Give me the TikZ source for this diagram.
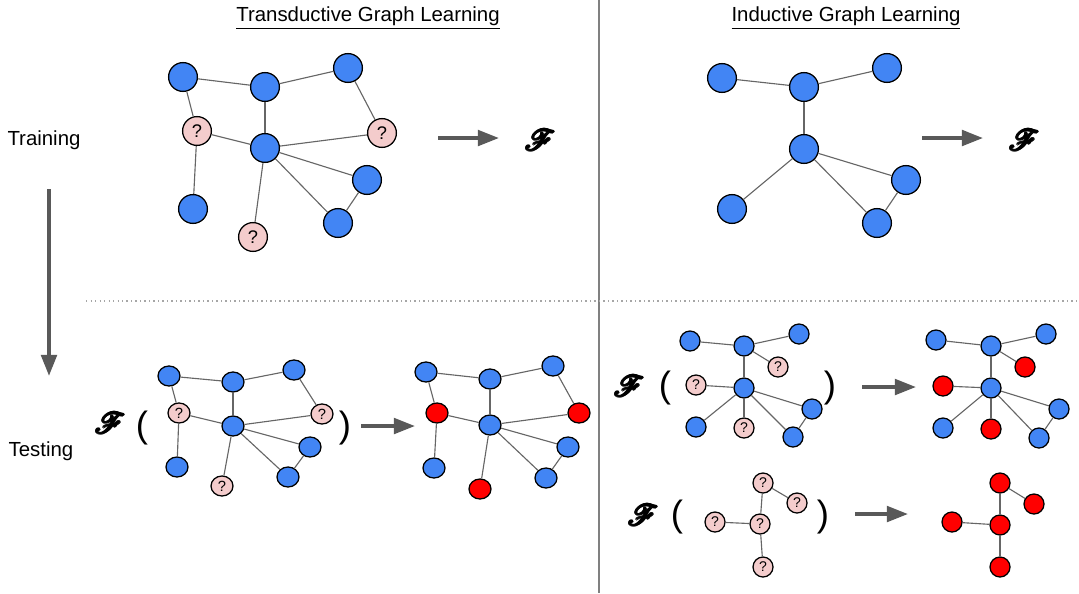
\documentclass[tikz,border=0pt]{standalone}
\usepackage{fontspec}
\setmainfont{Liberation Sans}
\usepackage{amsmath,mathrsfs}
\usetikzlibrary{arrows.meta,shapes.geometric}

\definecolor{gblue}{HTML}{4285F4}
\definecolor{qpink}{HTML}{F4CCCC}
\definecolor{pred}{HTML}{FF0000}
\definecolor{arrgray}{HTML}{595959}
\definecolor{edgegray}{HTML}{666666}

% heavy script F, built from shifted copies
\newcommand{\shiftF}[2]{\rlap{\kern#1\raisebox{#2}{$\mathscr{F}$}}}
\newcommand{\fancyF}{\shiftF{0.75pt}{0pt}\shiftF{-0.75pt}{0pt}\shiftF{0pt}{0.75pt}\shiftF{0pt}{-0.75pt}%
  \shiftF{0.55pt}{0.55pt}\shiftF{-0.55pt}{0.55pt}\shiftF{0.55pt}{-0.55pt}\shiftF{-0.55pt}{-0.55pt}$\mathscr{F}$}

\tikzset{
  vtx/.style={circle,draw=black,line width=0.9pt,inner sep=0pt,minimum size=0.72cm,font=\fontsize{13}{13}\selectfont},
  kn/.style={vtx,fill=gblue},
  qn/.style={vtx,fill=qpink},
  rn/.style={vtx,fill=pred},
  edge/.style={draw=edgegray,line width=0.8pt},
  bigarrow/.style={draw=arrgray,line width=2.6pt,-{Triangle[length=15pt,width=11pt]}},
  heading/.style={font=\fontsize{14.5}{17}\selectfont},
  fnt/.style={font=\fontsize{22}{24}\selectfont,inner sep=0pt},
  paren/.style={font=\fontsize{26}{30}\selectfont,inner sep=0pt}
}

\begin{document}
\begin{tikzpicture}[x=0.025cm,y=-0.025cm]
    \useasboundingbox (0,0) rectangle (1079,593);
    % Separators
    \draw[gray,line width=1pt] (599,0) -- (599,593);
    \draw[gray!70,line width=1pt,dash pattern=on 1pt off 2.2pt] (86,301) -- (1079,301);
    % Headings
    \node[heading] (htrans) at (368,18) {\underline{Transductive Graph Learning}};
    \node[heading] (hind) at (846,18) {\underline{Inductive Graph Learning}};
    \node[heading] (train) at (44,140) {Training};
    \node[heading] (test) at (41,451) {Testing};
    \coordinate (down0) at (49,189);
    \coordinate (down1) at (49,376);
    \draw[bigarrow] (down0) -- (down1);

    % Transductive, training
    \node[kn] (tt-a) at (183,77) {};
    \node[kn] (tt-b) at (265,87) {};
    \node[kn] (tt-c) at (348,68) {};
    \node[qn] (tt-q1) at (197,131) {?};
    \node[kn] (tt-m) at (265,148) {};
    \node[qn] (tt-q2) at (382,133) {?};
    \node[kn] (tt-d) at (193,209) {};
    \node[qn] (tt-q3) at (253,237) {?};
    \node[kn] (tt-e) at (367,180) {};
    \node[kn] (tt-f) at (338,223) {};
    \foreach \u/\v in {a/b,b/c,a/q1,c/q2,b/m,q1/m,m/q2,q1/d,m/q3,m/e,m/f,e/f}
        \draw[edge] (tt-\u) -- (tt-\v);
    \coordinate (tt-go) at (438,138);
    \coordinate (tt-to) at (499,138);
    \draw[bigarrow] (tt-go) -- (tt-to);
    \node[fnt] (tt-F) at (540,140) {\fancyF};

    % Inductive, training
    \node[kn] (ti-a) at (722,78) {};
    \node[kn] (ti-b) at (804,87) {};
    \node[kn] (ti-c) at (887,68) {};
    \node[kn] (ti-m) at (804,149) {};
    \node[kn] (ti-d) at (732,209) {};
    \node[kn] (ti-e) at (906,180) {};
    \node[kn] (ti-f) at (877,223) {};
    \foreach \u/\v in {a/b,b/c,b/m,m/d,m/e,m/f,e/f}
        \draw[edge] (ti-\u) -- (ti-\v);
    \coordinate (ti-go) at (922,138);
    \coordinate (ti-to) at (983,138);
    \draw[bigarrow] (ti-go) -- (ti-to);
    \node[fnt] (ti-F) at (1024,140) {\fancyF};

    % Transductive, testing
    \begin{scope}[vtx/.append style={ellipse,minimum size=0pt,minimum width=0.55cm,minimum height=0.5cm,font=\fontsize{10.5}{10.5}\selectfont}]
    \node[kn] (si-a) at (169,376) {};
    \node[kn] (si-b) at (233,382) {};
    \node[kn] (si-c) at (294,370) {};
    \node[qn] (si-q1) at (179,413) {?};
    \node[kn] (si-m) at (233,426) {};
    \node[qn] (si-q2) at (322,414) {?};
    \node[kn] (si-d) at (177,467) {};
    \node[qn] (si-q3) at (222,486) {?};
    \node[kn] (si-e) at (310,447) {};
    \node[kn] (si-f) at (288,477) {};
    \node[kn] (so-a) at (426,372) {};
    \node[kn] (so-b) at (490,379) {};
    \node[kn] (so-c) at (553,366) {};
    \node[rn] (so-q1) at (437,413) {};
    \node[kn] (so-m) at (490,425) {};
    \node[rn] (so-q2) at (579,413) {};
    \node[kn] (so-d) at (434,468) {};
    \node[rn] (so-q3) at (480,489) {};
    \node[kn] (so-e) at (568,447) {};
    \node[kn] (so-f) at (546,478) {};
    \end{scope}
    \foreach \u/\v in {a/b,b/c,a/q1,c/q2,b/m,q1/m,m/q2,q1/d,m/q3,m/e,m/f,e/f}{
        \draw[edge] (si-\u) -- (si-\v);
        \draw[edge] (so-\u) -- (so-\v);
    }
    \node[fnt] (si-F) at (110,423) {\fancyF};
    \node[paren] (si-l) at (142,428) {(};
    \node[paren] (si-r) at (345,428) {)};
    \coordinate (si-go) at (361,426);
    \coordinate (si-to) at (415,426);
    \draw[bigarrow] (si-go) -- (si-to);

    % Inductive, testing
    \begin{scope}[vtx/.append style={minimum size=0.5cm,font=\fontsize{10}{10}\selectfont}]
    \node[kn] (ri-a) at (690,341) {};
    \node[kn] (ri-b) at (744,346) {};
    \node[kn] (ri-c) at (799,334) {};
    \node[qn] (ri-q1) at (778,367) {?};
    \node[qn] (ri-q2) at (696,385) {?};
    \node[kn] (ri-m) at (744,388) {};
    \node[kn] (ri-d) at (696,427) {};
    \node[qn] (ri-q3) at (744,428) {?};
    \node[kn] (ri-e) at (812,409) {};
    \node[kn] (ri-f) at (793,437) {};
    \node[kn] (ro-a) at (936,340) {};
    \node[kn] (ro-b) at (991,346) {};
    \node[kn] (ro-c) at (1046,334) {};
    \node[rn] (ro-q1) at (1025,367) {};
    \node[rn] (ro-q2) at (943,386) {};
    \node[kn] (ro-m) at (991,388) {};
    \node[kn] (ro-d) at (943,428) {};
    \node[rn] (ro-q3) at (991,429) {};
    \node[kn] (ro-e) at (1059,409) {};
    \node[kn] (ro-f) at (1039,438) {};
    % new graph
    \node[qn] (ni-t) at (763,483) {?};
    \node[qn] (ni-r) at (797,503) {?};
    \node[qn] (ni-l) at (715,522) {?};
    \node[qn] (ni-c) at (760,524) {?};
    \node[qn] (ni-b) at (763,567) {?};
    \node[rn] (no-t) at (1000,483) {};
    \node[rn] (no-r) at (1034,504) {};
    \node[rn] (no-l) at (952,522) {};
    \node[rn] (no-c) at (1000,525) {};
    \node[rn] (no-b) at (1000,567) {};
    \end{scope}
    \foreach \u/\v in {a/b,b/c,b/q1,b/m,q2/m,m/d,m/q3,m/e,m/f,e/f}{
        \draw[edge] (ri-\u) -- (ri-\v);
        \draw[edge] (ro-\u) -- (ro-\v);
    }
    \foreach \u/\v in {t/r,t/c,l/c,c/b}{
        \draw[edge] (ni-\u) -- (ni-\v);
        \draw[edge] (no-\u) -- (no-\v);
    }
    \node[fnt] (ri-F) at (629,386) {\fancyF};
    \node[paren] (ri-l) at (665,388) {(};
    \node[paren] (ri-r) at (830,388) {)};
    \coordinate (ri-go) at (862,387);
    \coordinate (ri-to) at (916,387);
    \draw[bigarrow] (ri-go) -- (ri-to);
    \node[fnt] (ni-F) at (643,515) {\fancyF};
    \node[paren] (ni-l) at (677,517) {(};
    \node[paren] (ni-r) at (823,517) {)};
    \coordinate (ni-go) at (855,514);
    \coordinate (ni-to) at (908,514);
    \draw[bigarrow] (ni-go) -- (ni-to);
\end{tikzpicture}
\end{document}
